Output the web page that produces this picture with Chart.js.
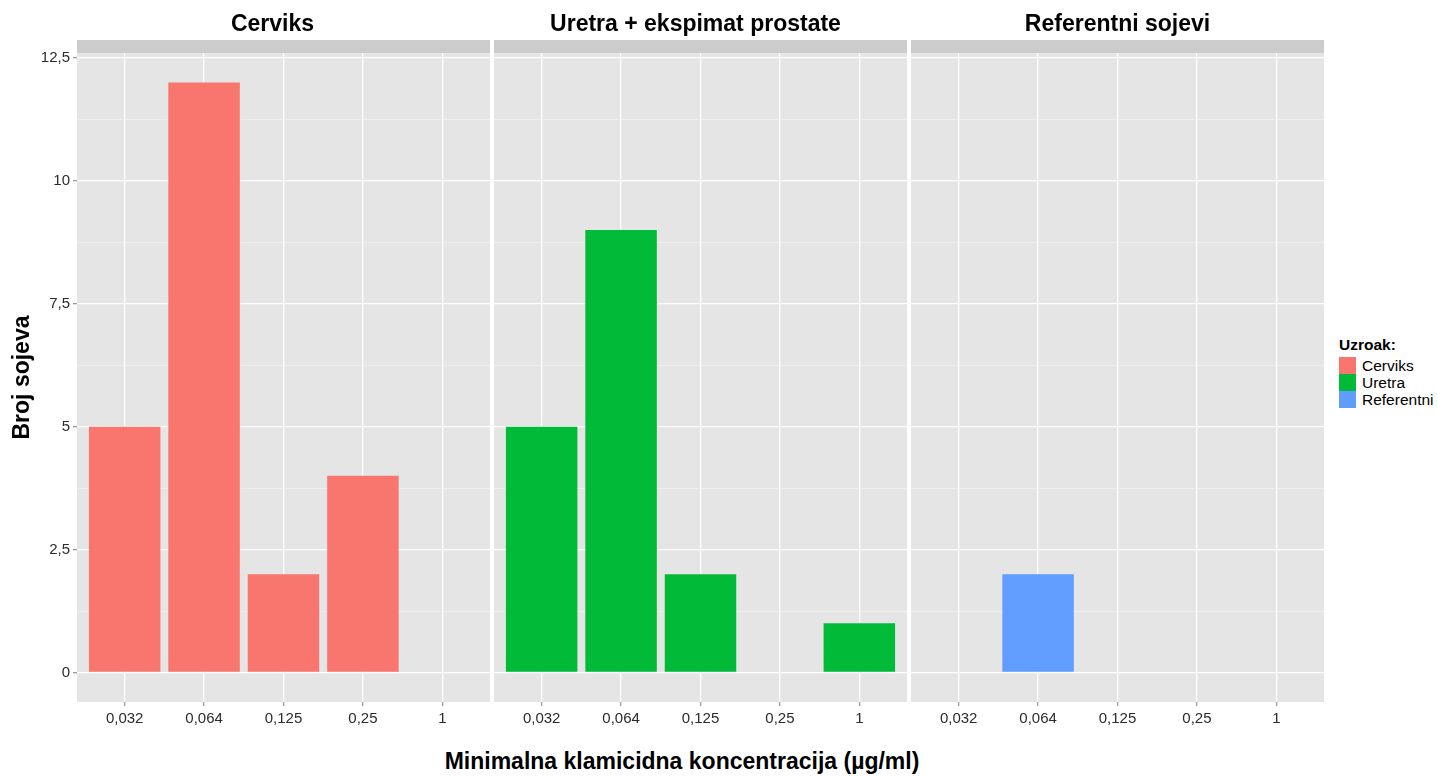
<!DOCTYPE html>
<html>
<head>
<meta charset="utf-8">
<script src="https://cdn.jsdelivr.net/npm/chart.js@4"></script>
<style>
  body { margin: 0; background: #fff; width: 1437px; height: 776px; overflow: hidden; position: relative; font-family: "Liberation Sans", Arial, sans-serif; }
  .panel { position: absolute; top: 0; height: 731px; }
  #xtitle { position: absolute; left: 332px; width: 700px; top: 748px; text-align: center; font-weight: bold; font-size: 23px; color: #000; }
  #legend { position: absolute; left: 1339px; top: 335px; font-size: 15.5px; color: #000; }
  #legend .ttl { font-weight: bold; height: 22px; line-height: 20px; }
  #legend .row { height: 17px; line-height: 17px; display: flex; align-items: center; }
  #legend .key { width: 17px; height: 17px; margin-right: 6px; }
</style>
</head>
<body>
<div class="panel" style="left:0;width:490px"><canvas id="cerviksChart"></canvas></div>
<div class="panel" style="left:494px;width:413px"><canvas id="uretraChart"></canvas></div>
<div class="panel" style="left:911px;width:413px"><canvas id="referentniChart"></canvas></div>
<div id="xtitle">Minimalna klamicidna koncentracija (µg/ml)</div>
<div id="legend">
  <div class="ttl">Uzroak:</div>
  <div class="row"><span class="key" style="background:#F8766D"></span>Cerviks</div>
  <div class="row"><span class="key" style="background:#00BA38"></span>Uretra</div>
  <div class="row"><span class="key" style="background:#619CFF"></span>Referentni</div>
</div>
<script>
const categories = ["0,032", "0,064", "0,125", "0,25", "1"]
const cerviks = [5, 12, 2, 4, null]
const uretra = [5, 9, 2, null, 1]
const referentni = [null, 2, null, null, null]
const yTicks = [0, 1.25, 2.5, 3.75, 5, 6.25, 7.5, 8.75, 10, 11.25, 12.5]

const isMajor = v => Math.abs(v / 2.5 - Math.round(v / 2.5)) < 1e-6

// grey panel background + strip with facet title
const facetPlugin = {
    id: "facet",
    beforeDraw(chart, args, opts) {
        const a = chart.chartArea
        const c = chart.ctx
        c.save()
        c.fillStyle = "#E5E5E5"
        c.fillRect(a.left, a.top, a.right - a.left, a.bottom - a.top)
        c.fillStyle = "#CCCCCC"
        c.fillRect(a.left, a.top - 13, a.right - a.left, 13)
        c.fillStyle = "#000"
        c.font = "bold 23px 'Liberation Sans', Arial, sans-serif"
        c.textAlign = "center"
        c.textBaseline = "middle"
        c.fillText(opts.text, (a.left + a.right) / 2 + (opts.shift || 0), 25)
        c.restore()
    }
}

function makePanel(id, title, values, color, withAxis, shift) {
    new Chart(document.getElementById(id), {
        type: "bar",
        data: {
            datasets: [{
                label: title,
                data: values.map((v, i) => ({ x: i, y: v })),
                backgroundColor: color,
                borderWidth: 0,
                inflateAmount: 0,
                barPercentage: 0.9,
                categoryPercentage: 1
            }]
        },
        options: {
            responsive: true,
            maintainAspectRatio: false,
            animation: false,
            layout: { padding: { top: 53, left: 0, right: 0, bottom: 0 } },
            plugins: {
                legend: { display: false },
                tooltip: { enabled: false },
                facet: { text: title, shift: shift }
            },
            scales: {
                x: {
                    type: "linear",
                    offset: false,
                    min: -0.6,
                    max: 4.6,
                    afterBuildTicks: s => { s.ticks = categories.map((c, i) => ({ value: i })) },
                    afterFit: s => { s.height = 29; s.paddingLeft = 0; s.paddingRight = 0 },
                    border: { display: false },
                    grid: { offset: false, color: "#FFFFFF", lineWidth: 1.3, tickLength: 4, tickColor: "#999999" },
                    ticks: {
                        padding: 4,
                        color: "#2B2B2B",
                        font: { size: 15, family: "'Liberation Sans', Arial, sans-serif" },
                        callback: v => categories[v]
                    }
                },
                y: {
                    min: -0.6,
                    max: 12.6,
                    afterBuildTicks: s => { s.ticks = yTicks.map(v => ({ value: v })) },
                    afterFit: s => { s.width = withAxis ? 77 : 0; s.paddingTop = 0; s.paddingBottom = 0 },
                    border: { display: false },
                    title: {
                        display: withAxis,
                        text: "Broj sojeva",
                        color: "#000",
                        padding: { top: 9, bottom: 0 },
                        font: { size: 23, weight: "bold", family: "'Liberation Sans', Arial, sans-serif" }
                    },
                    grid: {
                        color: c => isMajor(c.tick.value) ? "#FFFFFF" : "#F2F2F2",
                        lineWidth: c => isMajor(c.tick.value) ? 1.3 : 0.7,
                        drawTicks: withAxis,
                        tickLength: 4,
                        tickColor: c => isMajor(c.tick.value) ? "#999999" : "rgba(0,0,0,0)"
                    },
                    ticks: {
                        display: withAxis,
                        padding: 3,
                        color: "#2B2B2B",
                        font: { size: 15, family: "'Liberation Sans', Arial, sans-serif" },
                        callback: v => isMajor(v) ? String(v).replace(".", ",") : ""
                    }
                }
            }
        },
        plugins: [facetPlugin]
    })
}

makePanel("cerviksChart", "Cerviks", cerviks, "#F8766D", true, -11)
makePanel("uretraChart", "Uretra + ekspimat prostate", uretra, "#00BA38", false, -5)
makePanel("referentniChart", "Referentni sojevi", referentni, "#619CFF", false, 0)
</script>
</body>
</html>
